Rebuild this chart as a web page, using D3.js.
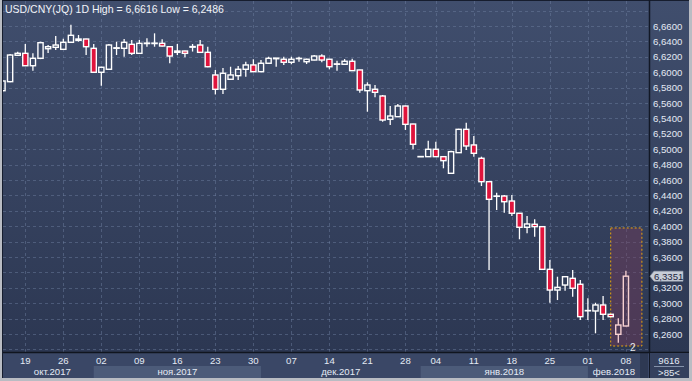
<!DOCTYPE html>
<html>
<head>
<meta charset="utf-8">
<script src="https://cdn.jsdelivr.net/npm/d3@7"></script>
<style>
  html, body { margin: 0; padding: 0; background: #b9bcc3; }
  svg { display: block; }
  text { font-family: "Liberation Sans", Arial, sans-serif; }
</style>
</head>
<body>
<div id="chart"></div>
<script>
// trading days (Jan 1 missing)
const dates = [
  "2017-10-16","2017-10-17","2017-10-18","2017-10-19","2017-10-20",
  "2017-10-23","2017-10-24","2017-10-25","2017-10-26","2017-10-27",
  "2017-10-30","2017-10-31","2017-11-01","2017-11-02","2017-11-03",
  "2017-11-06","2017-11-07","2017-11-08","2017-11-09","2017-11-10",
  "2017-11-13","2017-11-14","2017-11-15","2017-11-16","2017-11-17",
  "2017-11-20","2017-11-21","2017-11-22","2017-11-23","2017-11-24",
  "2017-11-27","2017-11-28","2017-11-29","2017-11-30","2017-12-01",
  "2017-12-04","2017-12-05","2017-12-06","2017-12-07","2017-12-08",
  "2017-12-11","2017-12-12","2017-12-13","2017-12-14","2017-12-15",
  "2017-12-18","2017-12-19","2017-12-20","2017-12-21","2017-12-22",
  "2017-12-25","2017-12-26","2017-12-27","2017-12-28","2017-12-29",
  "2018-01-02","2018-01-03","2018-01-04","2018-01-05",
  "2018-01-08","2018-01-09","2018-01-10","2018-01-11","2018-01-12",
  "2018-01-15","2018-01-16","2018-01-17","2018-01-18","2018-01-19",
  "2018-01-22","2018-01-23","2018-01-24","2018-01-25","2018-01-26",
  "2018-01-29","2018-01-30","2018-01-31","2018-02-01","2018-02-02",
  "2018-02-05","2018-02-06","2018-02-07","2018-02-08"
];
const open = [
  6.5760,6.5877,6.6220,6.6245,6.6084, 6.6180,6.6305,6.6323,6.6297,6.6388,
  6.6414,6.6431,6.6310,6.5999,6.6038, 6.6310,6.6310,6.6362,6.6245,6.6372,
  6.6378,6.6375,6.6331,6.6258,6.6275, 6.6325,6.6353,6.6258,6.5964,6.5778,
  6.5908,6.5955,6.6038,6.6094,6.6007, 6.6116,6.6175,6.6168,6.6129,6.6176,
  6.6136,6.6158,6.6210,6.6168,6.6108, 6.6103,6.6142,6.6029,6.5760,6.5778,
  6.5691,6.5388,6.5422,6.5561,6.5327, 6.4902,6.4903,6.4999,6.4903,
  6.4687,6.4955,6.5258,6.5055,6.4882, 6.4578,6.4388,6.4392,6.4327,6.4168,
  6.3986,6.4025,6.3994,6.3440,6.3171, 6.3236,6.3323,6.3246,6.2901,6.2899,
  6.2977,6.2856,6.2596,6.2704
];
const high = [
  6.5900,6.6235,6.6266,6.6366,6.6245, 6.6396,6.6353,6.6470,6.6435,6.6616,
  6.6483,6.6435,6.6366,6.6070,6.6366, 6.6396,6.6431,6.6418,6.6418,6.6440,
  6.6505,6.6427,6.6335,6.6366,6.6280, 6.6366,6.6418,6.6331,6.6029,6.6055,
  6.6071,6.6080,6.6136,6.6168,6.6158, 6.6201,6.6185,6.6201,6.6201,6.6201,
  6.6175,6.6223,6.6232,6.6175,6.6149, 6.6171,6.6175,6.6032,6.5869,6.5834,
  6.5704,6.5561,6.5587,6.5565,6.5332, 6.4906,6.5111,6.5097,6.4905,
  6.4981,6.5265,6.5344,6.5171,6.4903, 6.4580,6.4435,6.4405,6.4405,6.4170,
  6.4133,6.4089,6.4003,6.3560,6.3344, 6.3346,6.3431,6.3301,6.3064,6.3006,
  6.3094,6.2858,6.2804,6.3422
];
const low = [
  6.5740,6.5870,6.6215,6.6080,6.6020, 6.6170,6.6249,6.6288,6.6290,6.6380,
  6.6396,6.6223,6.5990,6.5825,6.6030, 6.6223,6.6201,6.6223,6.6240,6.6331,
  6.6331,6.6335,6.6116,6.6223,6.6193, 6.6268,6.6255,6.6065,6.5711,6.5717,
  6.5900,6.5899,6.5942,6.6000,6.6000, 6.6110,6.6071,6.6094,6.6103,6.6136,
  6.6106,6.6155,6.6129,6.6038,6.6020, 6.6100,6.6015,6.5734,6.5487,6.5674,
  6.5357,6.5314,6.5420,6.5250,6.4999, 6.4902,6.4903,6.4903,6.4752,
  6.4685,6.4955,6.4990,6.4903,6.4522, 6.3431,6.4210,6.4176,6.4133,6.3830,
  6.3908,6.3864,6.3431,6.3006,6.3041, 6.3162,6.3084,6.2782,6.2782,6.2609,
  6.2782,6.2823,6.2486,6.2700
];
const close = [
  6.5886,6.6223,6.6245,6.6084,6.6180, 6.6383,6.6331,6.6353,6.6388,6.6479,
  6.6431,6.6331,6.5999,6.6064,6.6353, 6.6317,6.6388,6.6245,6.6375,6.6378,
  6.6372,6.6340,6.6210,6.6275,6.6245, 6.6333,6.6258,6.6071,6.5778,6.5986,
  6.5964,6.6038,6.6094,6.6007,6.6116, 6.6180,6.6183,6.6129,6.6168,6.6180,
  6.6168,6.6210,6.6158,6.6071,6.6103, 6.6142,6.6020,6.5769,6.5834,6.5739,
  6.5379,6.5431,6.5561,6.5323,6.5064, 6.4905,6.4999,6.4903,6.4851,
  6.4968,6.5258,6.5042,6.4947,6.4578, 6.4349,6.4392,6.4318,6.4168,6.3986,
  6.4029,6.3994,6.3440,6.3171,6.3206, 6.3344,6.3194,6.2825,6.2905,6.2977,
  6.2856,6.2825,6.2717,6.3351
];

// axis labels
const xTickDates = ["2017-10-19","2017-10-26","2017-11-02","2017-11-09","2017-11-16",
  "2017-11-23","2017-11-30","2017-12-07","2017-12-14","2017-12-21","2017-12-28",
  "2018-01-04","2018-01-11","2018-01-18","2018-01-25","2018-02-01","2018-02-08"];
const months = ["2017-10","2017-11","2017-12","2018-01","2018-02"];
const monthLabels = ["окт.2017","ноя.2017","дек.2017","янв.2018","фев.2018"];
const yTicks = [6.24,6.26,6.28,6.30,6.32,6.34,6.36,6.38,6.40,6.42,6.44,6.46,
  6.48,6.50,6.52,6.54,6.56,6.58,6.60,6.62,6.64,6.66,6.68];
const lastPrice = 6.3351;
const title = "USD/CNY(JQ) 1D High = 6,6616 Low = 6,2486";
const footTop = "9616", footBottom = ">85<";
// highlighted selection (last 2 bars)
const selFrom = "2018-02-07", selTo = "2018-02-08", selLo = 6.2444, selHi = 6.3977;

const W = 692, H = 381;
const plot = { left: 3, top: 1, right: 649, bottom: 352 };
const axisRight = 689, axisBottom = 378;

const svg = d3.select('#chart').append('svg').attr('width', W).attr('height', H);
const defs = svg.append('defs');
const grad = defs.append('linearGradient').attr('id', 'bg').attr('x1', 0).attr('y1', 0).attr('x2', 0).attr('y2', 1);
grad.append('stop').attr('offset', '0%').attr('stop-color', '#404e6d');
grad.append('stop').attr('offset', '100%').attr('stop-color', '#2c3752');
defs.append('clipPath').attr('id', 'clip').append('rect')
  .attr('x', plot.left).attr('y', plot.top)
  .attr('width', plot.right - plot.left).attr('height', plot.bottom - plot.top);

// frame
svg.append('rect').attr('width', W).attr('height', H).attr('fill', '#b9bcc3');
svg.append('rect').attr('x', plot.left - 1).attr('y', 0)
  .attr('width', axisRight - plot.left + 1).attr('height', axisBottom)
  .attr('fill', '#161d2e');
svg.append('rect').attr('x', plot.left).attr('y', plot.top)
  .attr('width', axisRight - plot.left).attr('height', plot.bottom - plot.top)
  .attr('fill', 'url(#bg)');

const x = d3.scalePoint().domain(dates).range([2.5, 625.9]);
const y = d3.scaleLinear().domain([6.26, 6.66]).range([334, 26]);
const fmt = v => d3.format('.4f')(v).replace('.', ',');

// grid
const grid = svg.append('g').attr('clip-path', 'url(#clip)')
  .attr('stroke', '#7283a3').attr('stroke-opacity', 0.45)
  .attr('stroke-dasharray', '3,3').attr('stroke-width', 1);
grid.selectAll('.hg').data(yTicks).enter().append('line')
  .attr('x1', plot.left).attr('x2', plot.right)
  .attr('y1', d => Math.round(y(d)) + 0.5).attr('y2', d => Math.round(y(d)) + 0.5);
grid.selectAll('.vg').data(xTickDates).enter().append('line')
  .attr('y1', plot.top).attr('y2', plot.bottom)
  .attr('x1', d => Math.round(x(d)) + 0.5).attr('x2', d => Math.round(x(d)) + 0.5);

const g = svg.append('g').attr('clip-path', 'url(#clip)');

// selection box
const sx0 = x(selFrom) - 7.6, sx1 = x(selTo) + 16;
g.append('rect')
  .attr('x', sx0).attr('y', y(selHi))
  .attr('width', sx1 - sx0).attr('height', y(selLo) - y(selHi))
  .attr('fill', '#7a3b5a').attr('fill-opacity', 0.42)
  .attr('stroke', '#e8a30c').attr('stroke-width', 1).attr('stroke-dasharray', '2,2');

const bars = dates.map((d, i) => ({ date: d, o: open[i], h: high[i], l: low[i], c: close[i],
  sel: d >= selFrom && d <= selTo }));

// wicks: upper and lower parts, so hollow bodies stay empty
const wickCol = d => d.sel ? '#f6d0d0' : '#ffffff';
g.selectAll('.wickU').data(bars).enter().append('line')
  .attr('x1', d => x(d.date)).attr('x2', d => x(d.date))
  .attr('y1', d => y(d.h)).attr('y2', d => y(Math.max(d.o, d.c)))
  .attr('stroke', wickCol).attr('stroke-width', 1.3);
g.selectAll('.wickL').data(bars).enter().append('line')
  .attr('x1', d => x(d.date)).attr('x2', d => x(d.date))
  .attr('y1', d => y(Math.min(d.o, d.c))).attr('y2', d => y(d.l))
  .attr('stroke', wickCol).attr('stroke-width', 1.3);

// bodies
g.selectAll('.body').data(bars).enter().append('rect')
  .attr('x', d => x(d.date) - 2.6)
  .attr('width', 5.2)
  .attr('y', d => y(Math.max(d.o, d.c)))
  .attr('height', d => Math.max(0.3, Math.abs(y(d.o) - y(d.c))))
  .attr('fill', d => d.c >= d.o ? 'none' : '#e0143c')
  .attr('stroke', wickCol).attr('stroke-width', 1.4);

g.append('text').attr('x', sx1 - 9).attr('y', y(selLo) + 5)
  .attr('fill', '#e6e9ef').attr('font-size', 10).attr('text-anchor', 'middle').text(String(dates.length - dates.indexOf(selFrom)));

// title
svg.append('text').attr('x', 5).attr('y', 13).attr('fill', '#f2f4f8')
  .attr('font-size', 10.5).text(title);

// y axis panel
svg.append('line').attr('x1', plot.right + 0.5).attr('x2', plot.right + 0.5)
  .attr('y1', 0).attr('y2', axisBottom).attr('stroke', '#121826').attr('stroke-width', 1.5);
const priceY = y(lastPrice);
svg.append('g').selectAll('text')
  .data(yTicks.filter(v => y(v) > 18 && y(v) < 342 && Math.abs(y(v) - priceY) > 9))
  .enter().append('text')
  .attr('x', plot.right + 4).attr('y', d => y(d) + 3.5)
  .attr('fill', '#e4eaf4').attr('font-size', 9.6).text(fmt);

svg.append('path')
  .attr('d', `M${plot.right + 1},${priceY} L${plot.right + 5},${priceY - 5} L${plot.right + 34},${priceY - 5} L${plot.right + 34},${priceY + 5} L${plot.right + 5},${priceY + 5} Z`)
  .attr('fill', '#c7cdd7').attr('stroke', '#9aa3b2').attr('stroke-width', 0.6);
svg.append('text').attr('x', plot.right + 5).attr('y', priceY + 3.5)
  .attr('fill', '#1c2640').attr('font-size', 9.6).text(fmt(lastPrice));

// x axis panel
const xa = svg.append('g');
xa.append('rect').attr('x', plot.left).attr('y', plot.bottom + 1)
  .attr('width', plot.right - plot.left).attr('height', axisBottom - plot.bottom - 1)
  .attr('fill', '#3a4766');
svg.append('line').attr('x1', plot.left).attr('x2', axisRight)
  .attr('y1', plot.bottom + 0.5).attr('y2', plot.bottom + 0.5)
  .attr('stroke', '#10151f').attr('stroke-width', 1.5);

const monthSpans = months.map((m, k) => {
  const i0 = dates.findIndex(d => d.startsWith(m));
  const next = k + 1 < months.length ? dates.findIndex(d => d.startsWith(months[k + 1])) : -1;
  const a = Math.max(x(dates[i0]), plot.left + 8);
  const b = next >= 0 ? x(dates[next]) : plot.right - 9;
  return { label: monthLabels[k], a, b, shade: k % 2 === 1 };
});
xa.selectAll('.mband').data(monthSpans.filter(d => d.shade)).enter().append('rect')
  .attr('x', d => d.a).attr('width', d => d.b - d.a)
  .attr('y', 366).attr('height', axisBottom - 366)
  .attr('fill', '#4c5b79');
xa.append('rect').attr('x', plot.right - 9).attr('y', plot.bottom + 1)
  .attr('width', 8).attr('height', axisBottom - plot.bottom - 1).attr('fill', '#2e3953');
xa.selectAll('.mlab').data(monthSpans).enter().append('text')
  .attr('x', d => (d.a + d.b) / 2).attr('y', 375)
  .attr('text-anchor', 'middle').attr('fill', '#e4eaf4').attr('font-size', 9.6)
  .text(d => d.label);
xa.selectAll('.dlab').data(xTickDates).enter().append('text')
  .attr('x', d => x(d)).attr('y', 364)
  .attr('text-anchor', 'middle').attr('fill', '#e4eaf4').attr('font-size', 9.6)
  .text(d => d.slice(8));

// bottom right corner
svg.append('rect').attr('x', plot.right + 1).attr('y', plot.bottom + 1)
  .attr('width', axisRight - plot.right - 1).attr('height', axisBottom - plot.bottom - 1)
  .attr('fill', '#34405d');
svg.append('text').attr('x', 669).attr('y', 364).attr('text-anchor', 'middle')
  .attr('fill', '#e4eaf4').attr('font-size', 9.6).text(footTop);
svg.append('line').attr('x1', 654).attr('x2', 684).attr('y1', 366.5).attr('y2', 366.5)
  .attr('stroke', '#8492aa');
svg.append('text').attr('x', 669).attr('y', 376).attr('text-anchor', 'middle')
  .attr('fill', '#e4eaf4').attr('font-size', 9.6).text(footBottom);
</script>
</body>
</html>
